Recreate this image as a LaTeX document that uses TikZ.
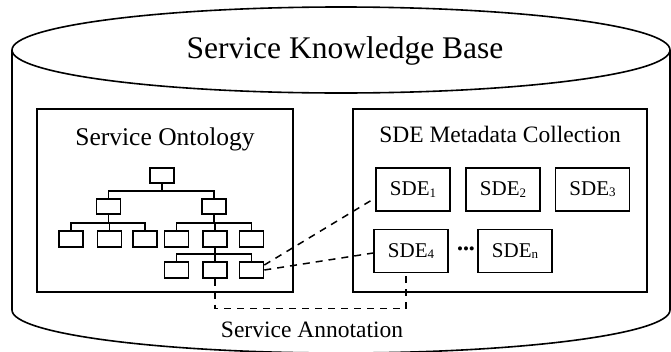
\documentclass[tikz,border=0pt]{standalone}
\usepackage{fontspec}
\setmainfont{Liberation Serif}
\newcommand{\fs}[1]{\fontsize{#1}{#1}\selectfont}
\newcommand{\sdeidx}[1]{\raisebox{-1.2pt}{\fs{13}#1}}
\begin{document}
\begin{tikzpicture}[x=1pt,y=-1pt,line join=miter,
  tbox/.style={draw,line width=1.6pt,minimum width=24pt,minimum height=15.5pt,inner sep=0pt},
  sdebox/.style={draw,line width=1.6pt,minimum width=74pt,minimum height=43pt,inner sep=0pt,font=\fs{21}},
  panel/.style={draw,line width=1.7pt,inner sep=0pt},
  branch/.style={line width=1.5pt},
  link/.style={line width=1.5pt,dash pattern=on 7pt off 6pt}]
\useasboundingbox (0,0) rectangle (671,351);

% knowledge base cylinder
\draw[line width=1.6pt] (12,50) -- (12,310)
  arc[start angle=180,end angle=0,x radius=329,y radius=43] -- (670,50);
\draw[line width=1.6pt,fill=white] (341,50) ellipse [x radius=329,y radius=43];
\node[anchor=base,font=\fs{31.5}] (kbtitle) at (345,58) {Service Knowledge Base};

% ontology panel
\node[panel,minimum width=256pt,minimum height=183pt] (onto) at (165,200.5) {};
\node[anchor=base,font=\fs{25.5}] (ontotitle) at (165,145) {Service Ontology};

% ontology tree
\node[tbox] (r)   at (162,175.5) {};
\node[tbox] (a)   at (108.5,206.5) {};
\node[tbox] (b)   at (214,206.5) {};
\node[tbox] (a1)  at (71,239) {};
\node[tbox] (a2)  at (109.5,239) {};
\node[tbox] (a3)  at (145,239) {};
\node[tbox] (b1)  at (176.5,239) {};
\node[tbox] (b2)  at (215,239) {};
\node[tbox] (b3)  at (251.5,239) {};
\node[tbox] (c1)  at (176.5,270) {};
\node[tbox] (c2)  at (215,270) {};
\node[tbox] (c3)  at (251.5,270) {};

\foreach \c in {a,b} \draw[branch] (r.south) -- ++(0,7) -| (\c.north);
\foreach \c in {a1,a2,a3} \draw[branch] (a.south) -- ++(0,8) -| (\c.north);
\foreach \c in {b1,b2,b3} \draw[branch] (b.south) -- ++(0,8) -| (\c.north);
\foreach \c in {c1,c2,c3} \draw[branch] (b2.south) -- ++(0,6.5) -| (\c.north);

% metadata panel
\node[panel,minimum width=294pt,minimum height=183pt] (meta) at (500,200.5) {};
\node[anchor=base,font=\fs{23.5}] (metatitle) at (500,142.7) {SDE Metadata Collection};

\node[sdebox] (s1) at (413,189.5) {SDE\sdeidx{1}};
\node[sdebox] (s2) at (503,189.5) {SDE\sdeidx{2}};
\node[sdebox] (s3) at (592.5,189.5) {SDE\sdeidx{3}};
\node[sdebox] (s4) at (411,251) {SDE\sdeidx{4}};
\node[sdebox] (sn) at (515,251) {SDE\sdeidx{n}};
\node[font=\fs{17},inner sep=0pt] (dots) at (466,251) {•••};

% annotation links
\coordinate (p1) at ([yshift=5pt]c3.east);
\coordinate (q1) at ([yshift=-8.5pt]s1.west);
\coordinate (p2) at (c3.east);
\coordinate (q2) at ([yshift=-2pt]s4.west);
\draw[link] (p1) -- (q1);
\draw[link] (p2) -- (q2);
\coordinate (q3) at ([xshift=-5pt]s4.south);
\draw[link] (c2.south) -- ++(0,30) -| (q3);
\node[anchor=base,font=\fs{23.5}] (annot) at (312,337) {Service Annotation};
\end{tikzpicture}
\end{document}
